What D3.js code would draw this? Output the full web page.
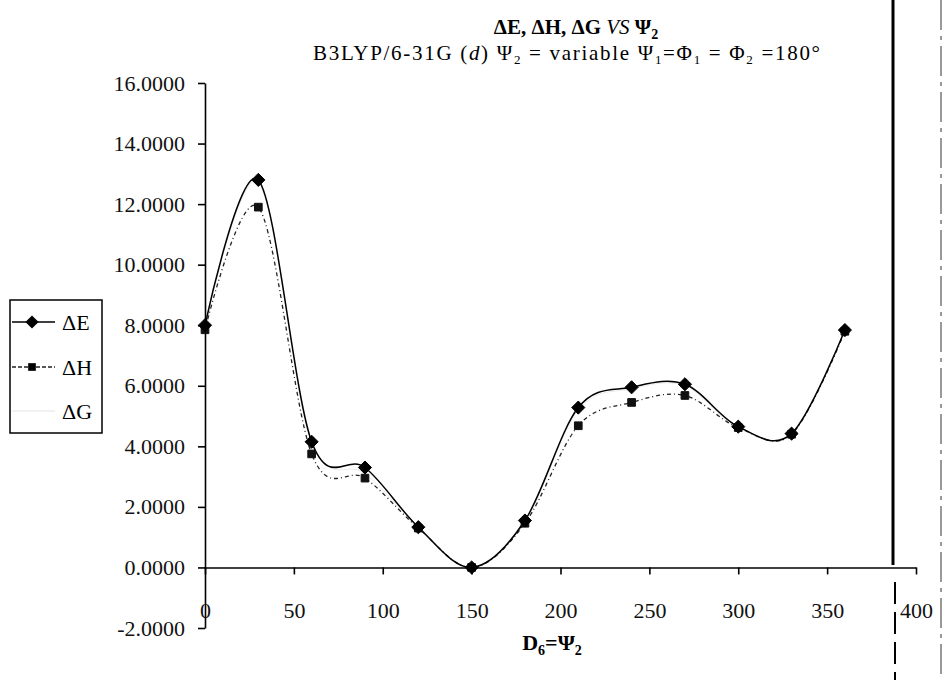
<!DOCTYPE html>
<html>
<head>
<meta charset="utf-8">
<script src="https://cdn.jsdelivr.net/npm/d3@7"></script>
<style>
  body { margin: 0; background: #fff; }
  svg { display: block; font-family: "Liberation Serif", "DejaVu Serif", serif; }
</style>
</head>
<body>
<div id="chart"></div>
<script>
// dihedral angle D6 = Psi2 (degrees)
const angles = [0, 30, 60, 90, 120, 150, 180, 210, 240, 270, 300, 330, 360];
// relative energies
const dE = [8.00, 12.80, 4.15, 3.30, 1.33, 0.00, 1.55, 5.28, 5.95, 6.05, 4.65, 4.42, 7.84];
const dH = [7.85, 11.90, 3.75, 2.95, 1.30, 0.00, 1.46, 4.68, 5.45, 5.68, 4.62, 4.40, 7.80];
const dG = [7.95, 12.70, 4.20, 3.10, 1.35, 0.00, 1.50, 5.20, 5.90, 6.00, 4.60, 4.45, 7.85];
const seriesNames = ["ΔE", "ΔH", "ΔG"];
const xTicks = [0, 50, 100, 150, 200, 250, 300, 350, 400];
const yTicks = [-2, 0, 2, 4, 6, 8, 10, 12, 14, 16];

var width = 946, height = 680;

var svg = d3.select("#chart")
    .append("svg")
    .attr("width", width)
    .attr("height", height);

var x = d3.scaleLinear()
    .domain([0, 400])
    .range([205, 916]);

var y = d3.scaleLinear()
    .domain([-2, 16])
    .range([628, 83]);

// Y axis
var yAxis = svg.append("g")
    .attr("transform", "translate(" + x(0) + ",0)")
    .call(d3.axisLeft(y)
        .tickValues(yTicks)
        .tickSize(7)
        .tickSizeOuter(0)
        .tickPadding(13)
        .tickFormat(function(d) { return d.toFixed(4); }));
yAxis.selectAll("text").style("font-size", "22px").attr("fill", "#111");

// X axis (crosses at y = 0)
var xAxis = svg.append("g")
    .attr("transform", "translate(0," + y(0) + ")")
    .call(d3.axisBottom(x)
        .tickValues(xTicks)
        .tickSize(7)
        .tickSizeOuter(0));
xAxis.selectAll("text")
    .style("font-size", "22px")
    .attr("fill", "#111")
    .attr("y", 51)
    .attr("dy", 0);

svg.selectAll(".domain, .tick line").attr("stroke", "#000").attr("stroke-width", 1.6);
svg.selectAll(".tick text").style("font-family", "'Liberation Serif', serif");

var line = d3.line()
    .x(function(d) { return x(d[0]); })
    .y(function(d) { return y(d[1]); })
    .curve(d3.curveCardinal.tension(0));

function pts(vals) {
    return angles.map(function(a, i) { return [a, vals[i]]; });
}

// dG - very pale in the original
svg.append("path")
    .datum(pts(dG))
    .attr("fill", "none")
    .attr("stroke", "#ececec")
    .attr("stroke-width", 1)
    .attr("d", line);

// dH - dash-dot line with squares
svg.append("path")
    .datum(pts(dH))
    .attr("fill", "none")
    .attr("stroke", "#222")
    .attr("stroke-width", 1.3)
    .attr("stroke-dasharray", "4,3,1,3")
    .attr("d", line);

// dE - solid line with diamonds
svg.append("path")
    .datum(pts(dE))
    .attr("fill", "none")
    .attr("stroke", "#000")
    .attr("stroke-width", 1.5)
    .attr("d", line);

var diamond = d3.symbol().type(d3.symbolDiamond2).size(110);
var square = d3.symbol().type(d3.symbolSquare2).size(75);

svg.selectAll(".sq")
    .data(pts(dH))
    .enter()
    .append("path")
    .attr("class", "sq")
    .attr("transform", function(d) { return "translate(" + x(d[0]) + "," + y(d[1]) + ")"; })
    .attr("d", square)
    .attr("fill", "#111")
    .attr("stroke", "#111")
    .attr("stroke-width", 1);

svg.selectAll(".dm")
    .data(pts(dE))
    .enter()
    .append("path")
    .attr("class", "dm")
    .attr("transform", function(d) { return "translate(" + x(d[0]) + "," + y(d[1]) + ")"; })
    .attr("d", diamond)
    .attr("fill", "#000")
    .attr("stroke", "#000")
    .attr("stroke-width", 1);

// Title
var title = svg.append("text")
    .attr("x", 576)
    .attr("y", 34)
    .attr("text-anchor", "middle")
    .style("font-size", "21px")
    .style("font-weight", "bold");
title.append("tspan").text("ΔE, ΔH, ΔG ");
title.append("tspan").style("font-style", "italic").style("font-weight", "normal").text("VS");
title.append("tspan").text(" Ψ");
title.append("tspan").attr("dy", 5).style("font-size", "14px").text("2");

var sub = svg.append("text")
    .attr("x", 313)
    .attr("y", 60)
    .attr("textLength", 507)
    .attr("lengthAdjust", "spacing")
    .style("font-size", "21px");
sub.append("tspan").text("B3LYP/6-31G (");
sub.append("tspan").style("font-style", "italic").text("d");
sub.append("tspan").text(")   Ψ");
sub.append("tspan").attr("dy", 4).style("font-size", "13px").text("2");
sub.append("tspan").attr("dy", -4).text(" = variable Ψ");
sub.append("tspan").attr("dy", 4).style("font-size", "13px").text("1");
sub.append("tspan").attr("dy", -4).text("=Φ");
sub.append("tspan").attr("dy", 4).style("font-size", "13px").text("1");
sub.append("tspan").attr("dy", -4).text(" = Φ");
sub.append("tspan").attr("dy", 4).style("font-size", "13px").text("2");
sub.append("tspan").attr("dy", -4).text(" =180°");

// X axis title
var xt = svg.append("text")
    .attr("x", 552)
    .attr("y", 650)
    .attr("text-anchor", "middle")
    .style("font-size", "22px")
    .style("font-weight", "bold");
xt.append("tspan").text("D");
xt.append("tspan").attr("dy", 5).style("font-size", "14px").text("6");
xt.append("tspan").attr("dy", -5).text("=Ψ");
xt.append("tspan").attr("dy", 5).style("font-size", "14px").text("2");

// Legend
var legend = svg.append("g");
legend.append("rect")
    .attr("x", 10).attr("y", 300)
    .attr("width", 92).attr("height", 133)
    .attr("fill", "#fff")
    .attr("stroke", "#000")
    .attr("stroke-width", 1.5);

var legendRows = [
    { name: seriesNames[0], y: 322, dash: null, sym: diamond, color: "#000" },
    { name: seriesNames[1], y: 367, dash: "4,2", sym: square, color: "#222" },
    { name: seriesNames[2], y: 411, dash: null, sym: null, color: "#ececec" }
];
legendRows.forEach(function(r) {
    legend.append("line")
        .attr("x1", 12).attr("x2", 55)
        .attr("y1", r.y).attr("y2", r.y)
        .attr("stroke", r.color)
        .attr("stroke-width", 1.3)
        .attr("stroke-dasharray", r.dash);
    if (r.sym) {
        legend.append("path")
            .attr("transform", "translate(32," + r.y + ")")
            .attr("d", r.sym)
            .attr("fill", "#000");
    }
    legend.append("text")
        .attr("x", 62).attr("y", r.y + 8)
        .style("font-size", "22px")
        .text(r.name);
});

// scan edge marks on the right of the page
svg.append("line").attr("x1", 893).attr("x2", 893).attr("y1", 0).attr("y2", 565)
    .attr("stroke", "#000").attr("stroke-width", 3);
svg.append("line").attr("x1", 895).attr("x2", 895).attr("y1", 582).attr("y2", 680)
    .attr("stroke", "#000").attr("stroke-width", 2).attr("stroke-dasharray", "22,8");
svg.append("line").attr("x1", 941).attr("x2", 941).attr("y1", 0).attr("y2", 680)
    .attr("stroke", "#333").attr("stroke-width", 1).attr("stroke-dasharray", "30,6,4,6");
</script>
</body>
</html>
